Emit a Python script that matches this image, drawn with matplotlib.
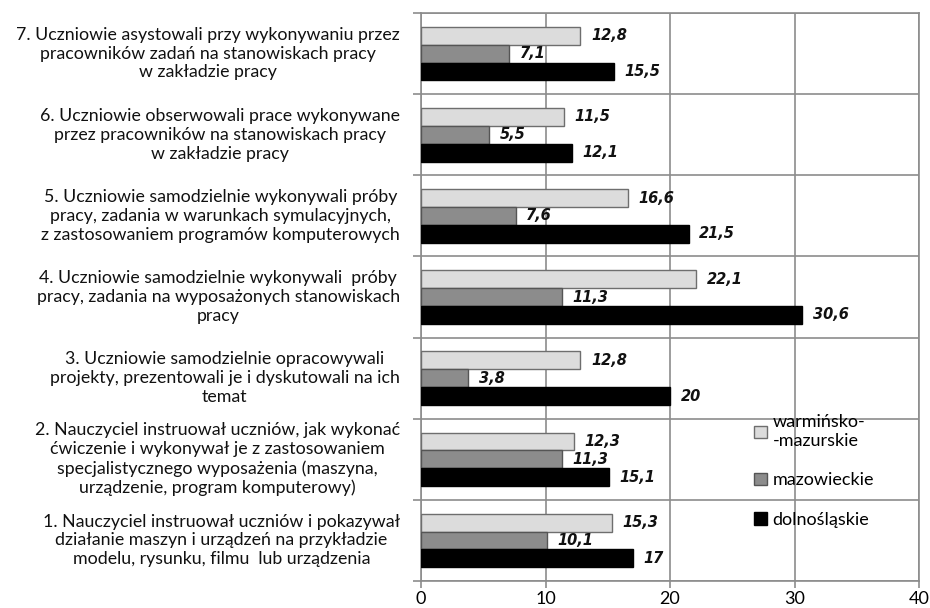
import matplotlib.pyplot as plt
import matplotlib.transforms as mtransforms
import numpy as np

categories = [
    '1. Nauczyciel instruował uczniów i pokazywał\ndziałanie maszyn i urządzeń na przykładzie\nmodelu, rysunku, filmu  lub urządzenia',
    '2. Nauczyciel instruował uczniów, jak wykonać\nćwiczenie i wykonywał je z zastosowaniem\nspecjalistycznego wyposażenia (maszyna,\nurządzenie, program komputerowy)',
    '3. Uczniowie samodzielnie opracowywali\nprojekty, prezentowali je i dyskutowali na ich\ntemat',
    '4. Uczniowie samodzielnie wykonywali  próby\npracy, zadania na wyposażonych stanowiskach\npracy',
    '5. Uczniowie samodzielnie wykonywali próby\npracy, zadania w warunkach symulacyjnych,\nz zastosowaniem programów komputerowych',
    '6. Uczniowie obserwowali prace wykonywane\nprzez pracowników na stanowiskach pracy\nw zakładzie pracy',
    '7. Uczniowie asystowali przy wykonywaniu przez\npracowników zadań na stanowiskach pracy\nw zakładzie pracy',
]
warminsko = [15.3, 12.3, 12.8, 22.1, 16.6, 11.5, 12.8]
mazowieckie = [10.1, 11.3, 3.8, 11.3, 7.6, 5.5, 7.1]
dolnoslaskie = [17, 15.1, 20, 30.6, 21.5, 12.1, 15.5]
series_names = ['warmińsko-\n-mazurskie', 'mazowieckie', 'dolnośląskie']
x_ticks = [0, 10, 20, 30, 40]

plt.rcParams['font.family'] = ['Lato', 'DejaVu Sans']

fig = plt.figure(figsize=(9.3, 6.08), dpi=100)
ax = fig.add_axes([0.4527, 0.0444, 0.5355, 0.9342])

y = np.arange(len(categories))
h = 0.22
grid_col = '#8c8c8c'
series = [
    (warminsko, h, '#dcdcdc', '#6e6e6e'),
    (mazowieckie, 0, '#8c8c8c', '#555555'),
    (dolnoslaskie, -h, '#000000', '#000000'),
]
for (vals, off, fc, ec), name in zip(series, series_names):
    bars = ax.barh(y + off, vals, height=h, color=fc, edgecolor=ec,
                   linewidth=1.0, label=name, zorder=3)
    for b, v in zip(bars, vals):
        txt = f'{v:g}'.replace('.', ',')
        ax.text(v + 0.85, b.get_y() + h / 2, txt, va='center', ha='left',
                fontsize=10.5, fontweight='bold', fontstyle='italic',
                family='DejaVu Sans', color='#111111', zorder=4)

ax.set_xlim(0, 40)
ax.set_ylim(-0.5, len(categories) - 0.5)
ax.set_xticks(x_ticks)
ax.set_xticklabels([str(t) for t in x_ticks], fontsize=13)
ax.set_yticks(np.arange(-0.5, len(categories), 1.0))
ax.set_yticklabels([])
ax.tick_params(axis='x', length=5, width=1.2, color=grid_col, pad=2)
ax.tick_params(axis='y', length=6, width=1.2, color=grid_col)
ax.grid(True, color=grid_col, linewidth=1.2, zorder=0)
for s in ax.spines.values():
    s.set_color(grid_col)
    s.set_linewidth(1.2)

# category descriptions to the left of the plot, lines centred
trans = mtransforms.blended_transform_factory(fig.transFigure, ax.transData)
for yi, label in zip(y, categories):
    ax.text(0.43, yi, label, transform=trans, ha='right', va='center',
            multialignment='center', fontsize=12.8, linespacing=1.22,
            color='#111111')

ax.legend(loc='upper left', bbox_to_anchor=(0.655, 0.306), frameon=False,
          fontsize=13, handlelength=0.7, handleheight=0.7,
          handletextpad=0.3, labelspacing=1.3, borderaxespad=0)

fig.savefig('out.png', dpi=100)
